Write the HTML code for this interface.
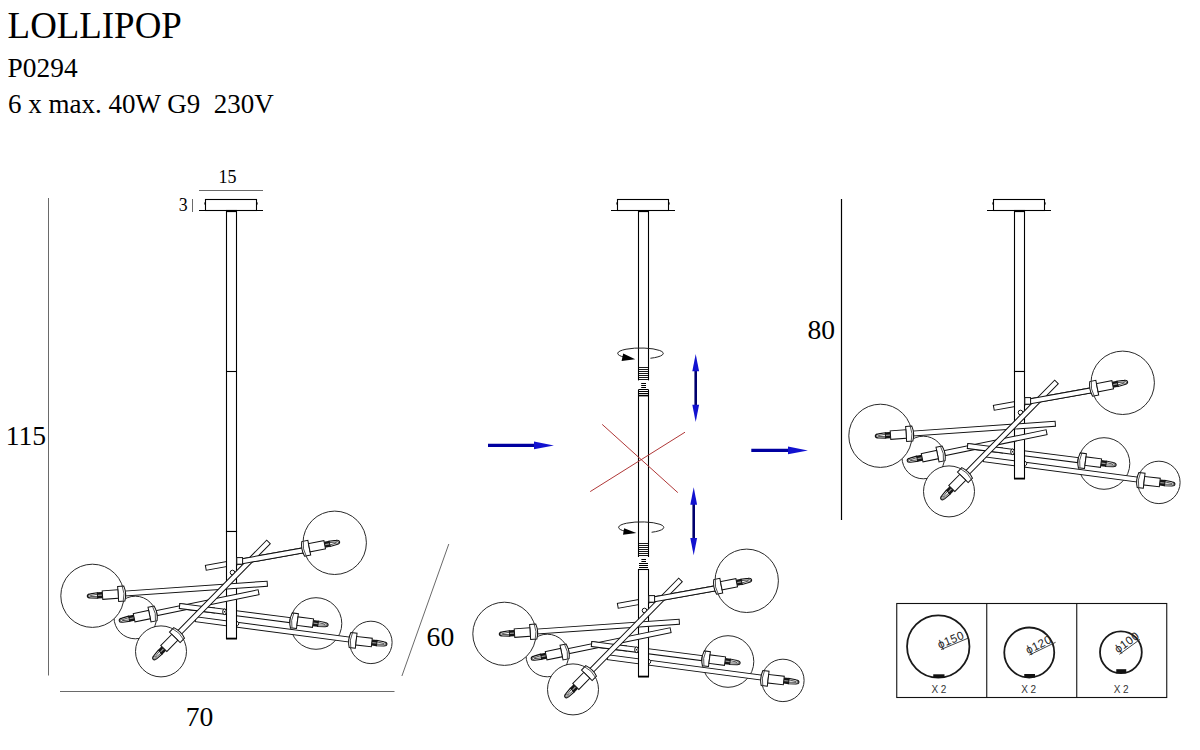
<!DOCTYPE html>
<html><head><meta charset="utf-8">
<style>
html,body{margin:0;padding:0;background:#fff;}
body{width:1200px;height:750px;overflow:hidden;position:relative;}
svg{position:absolute;left:0;top:0;}
.t{font-family:"Liberation Serif",serif;fill:#000;}
.s{font-family:"Liberation Sans",sans-serif;}
.gl{fill:#fff;stroke:#2a2a2a;stroke-width:1;}
.br{fill:#fff;stroke:#111;stroke-width:1;}
.cl{fill:#fff;stroke:#111;stroke-width:1;}
.bd{fill:#fff;stroke:#111;stroke-width:1;}
.tp{fill:#fff;stroke:#111;stroke-width:1;}
.ln{fill:none;stroke:#333;stroke-width:0.8;}
.rod{fill:#fff;stroke:#000;stroke-width:1.1;}
.dim{stroke:#6a6a6a;stroke-width:1;fill:none;}
</style></head>
<body>
<svg width="1200" height="750" viewBox="0 0 1200 750">
<defs>
<clipPath id="clipE" clipPathUnits="userSpaceOnUse"><rect x="170" y="590" width="45" height="30"/></clipPath>
<clipPath id="clipA" clipPathUnits="userSpaceOnUse"><rect x="237" y="500" width="120" height="80"/></clipPath>
<g id="body">
<circle cx="135.3" cy="617.5" r="21.3" class="gl"/>
<circle cx="92.4" cy="595.8" r="31.6" class="gl"/>
<circle cx="161.0" cy="651.4" r="25.5" class="gl"/>
<circle cx="316.0" cy="623.5" r="25.8" class="gl"/>
<circle cx="370.9" cy="642.4" r="21.2" class="gl"/>
<circle cx="334.7" cy="542.8" r="31.7" class="gl"/>
<g transform="translate(205.8 567.8) rotate(-10.18)"><rect x="0" y="-2.5" width="98.84" height="5.0" class="br"/></g>
<g transform="translate(179.6 606.0) rotate(7.31)"><rect x="0" y="-2.5" width="111.22" height="5.0" class="br"/></g>
<g transform="translate(195.5 619.2) rotate(7.53)"><rect x="0" y="-2.5" width="155.23" height="5.0" class="br"/></g>
<rect x="226.5" y="531.5" width="10" height="107" class="rod"/>
<line x1="226" y1="638.6" x2="237" y2="638.6" stroke="#000" stroke-width="1.8"/>
<circle cx="232.5" cy="572.5" r="2.3" class="br"/>
<ellipse cx="224.5" cy="611.8" rx="1.8" ry="2.8" class="br"/><circle cx="224.6" cy="611.8" r="0.7" fill="#000"/>
<path d="M237 621.2 Q240.5 623.7 237 626.3" class="br"/>
<g transform="translate(267.3 583.7) rotate(176.04)"><rect x="0" y="-2.5" width="143.22" height="5.0" class="br"/></g>
<g transform="translate(258.6 592.2) rotate(168.40)"><rect x="0" y="-2.5" width="104.07" height="5.0" class="br"/></g>
<g clip-path="url(#clipE)"><g transform="translate(179.6 606.0) rotate(7.31)"><rect x="0" y="-2.5" width="111.22" height="5.0" class="br"/></g></g>
<g transform="translate(268.5 541.9) rotate(134.47)"><rect x="0" y="-2.5" width="127.45" height="5.0" class="br"/></g>
<g clip-path="url(#clipA)"><g transform="translate(205.8 567.8) rotate(-10.18)"><rect x="0" y="-2.5" width="98.84" height="5.0" class="br"/></g></g>
<rect x="236.8" y="557.6" width="5.8" height="6.6" class="br"/>
<g transform="translate(135.3 617.5) rotate(-11.60)"><path d="M14.50 -7.5 L20.70 -7.5 Q23.30 0 20.70 7.5 L14.50 7.5 Z" class="cl"/><path d="M19.10 -7.3 Q21.60 0 19.10 7.3" class="ln"/><rect x="-1.20" y="-4.25" width="15.70" height="8.5" class="bd"/><path d="M-6.20 -2.7 L-13.20 -2.1 Q-16.40 -1.9 -16.40 0 Q-16.40 1.9 -13.20 2.1 L-6.20 2.7Z" fill="#fff" stroke="#111" stroke-width="1.1"/><path d="M-6.20 -1.2 L-12.90 -0.5 M-6.20 1.2 L-12.90 0.5" stroke="#333" stroke-width="0.8" fill="none"/><ellipse cx="-14.10" cy="0" rx="1.3" ry="1.0" fill="#fff" stroke="#222" stroke-width="0.7"/><rect x="-6.40" y="-3.1" width="5.2" height="6.2" fill="#151515"/><rect x="-5.80" y="-0.6" width="4.0" height="1.2" fill="#9a9a9a"/></g>
<g transform="translate(92.4 595.8) rotate(-3.96)"><path d="M25.80 -7.5 L32.00 -7.5 Q34.60 0 32.00 7.5 L25.80 7.5 Z" class="cl"/><path d="M30.40 -7.3 Q32.90 0 30.40 7.3" class="ln"/><rect x="10.10" y="-4.25" width="15.70" height="8.5" class="bd"/><path d="M5.10 -2.7 L-1.90 -2.1 Q-5.10 -1.9 -5.10 0 Q-5.10 1.9 -1.90 2.1 L5.10 2.7Z" fill="#fff" stroke="#111" stroke-width="1.1"/><path d="M5.10 -1.2 L-1.60 -0.5 M5.10 1.2 L-1.60 0.5" stroke="#333" stroke-width="0.8" fill="none"/><ellipse cx="-2.80" cy="0" rx="1.3" ry="1.0" fill="#fff" stroke="#222" stroke-width="0.7"/><rect x="4.90" y="-3.1" width="5.2" height="6.2" fill="#151515"/><rect x="5.50" y="-0.6" width="4.0" height="1.2" fill="#9a9a9a"/></g>
<g transform="translate(161.0 651.4) rotate(-45.53)"><path d="M19.70 -7.5 L25.90 -7.5 Q28.50 0 25.90 7.5 L19.70 7.5 Z" class="cl"/><path d="M24.30 -7.3 Q26.80 0 24.30 7.3" class="ln"/><rect x="4.00" y="-4.25" width="15.70" height="8.5" class="bd"/><path d="M-1.00 -2.7 L-8.00 -2.1 Q-11.20 -1.9 -11.20 0 Q-11.20 1.9 -8.00 2.1 L-1.00 2.7Z" fill="#fff" stroke="#111" stroke-width="1.1"/><path d="M-1.00 -1.2 L-7.70 -0.5 M-1.00 1.2 L-7.70 0.5" stroke="#333" stroke-width="0.8" fill="none"/><ellipse cx="-8.90" cy="0" rx="1.3" ry="1.0" fill="#fff" stroke="#222" stroke-width="0.7"/><rect x="-1.20" y="-3.1" width="5.2" height="6.2" fill="#151515"/><rect x="-0.60" y="-0.6" width="4.0" height="1.2" fill="#9a9a9a"/></g>
<g transform="translate(316.0 623.5) rotate(-172.69)"><path d="M18.70 -7.5 L24.90 -7.5 Q27.50 0 24.90 7.5 L18.70 7.5 Z" class="cl"/><path d="M23.30 -7.3 Q25.80 0 23.30 7.3" class="ln"/><rect x="3.00" y="-4.25" width="15.70" height="8.5" class="bd"/><path d="M-2.00 -2.7 L-9.00 -2.1 Q-12.20 -1.9 -12.20 0 Q-12.20 1.9 -9.00 2.1 L-2.00 2.7Z" fill="#fff" stroke="#111" stroke-width="1.1"/><path d="M-2.00 -1.2 L-8.70 -0.5 M-2.00 1.2 L-8.70 0.5" stroke="#333" stroke-width="0.8" fill="none"/><ellipse cx="-9.90" cy="0" rx="1.3" ry="1.0" fill="#fff" stroke="#222" stroke-width="0.7"/><rect x="-2.20" y="-3.1" width="5.2" height="6.2" fill="#151515"/><rect x="-1.60" y="-0.6" width="4.0" height="1.2" fill="#9a9a9a"/></g>
<g transform="translate(370.9 642.4) rotate(-173.47)"><path d="M14.80 -7.5 L21.00 -7.5 Q23.60 0 21.00 7.5 L14.80 7.5 Z" class="cl"/><path d="M19.40 -7.3 Q21.90 0 19.40 7.3" class="ln"/><rect x="-0.90" y="-4.25" width="15.70" height="8.5" class="bd"/><path d="M-5.90 -2.7 L-12.90 -2.1 Q-16.10 -1.9 -16.10 0 Q-16.10 1.9 -12.90 2.1 L-5.90 2.7Z" fill="#fff" stroke="#111" stroke-width="1.1"/><path d="M-5.90 -1.2 L-12.60 -0.5 M-5.90 1.2 L-12.60 0.5" stroke="#333" stroke-width="0.8" fill="none"/><ellipse cx="-13.80" cy="0" rx="1.3" ry="1.0" fill="#fff" stroke="#222" stroke-width="0.7"/><rect x="-6.10" y="-3.1" width="5.2" height="6.2" fill="#151515"/><rect x="-5.50" y="-0.6" width="4.0" height="1.2" fill="#9a9a9a"/></g>
<g transform="translate(334.7 542.8) rotate(169.02)"><path d="M25.90 -7.5 L32.10 -7.5 Q34.70 0 32.10 7.5 L25.90 7.5 Z" class="cl"/><path d="M30.50 -7.3 Q33.00 0 30.50 7.3" class="ln"/><rect x="10.20" y="-4.25" width="15.70" height="8.5" class="bd"/><path d="M5.20 -2.7 L-1.80 -2.1 Q-5.00 -1.9 -5.00 0 Q-5.00 1.9 -1.80 2.1 L5.20 2.7Z" fill="#fff" stroke="#111" stroke-width="1.1"/><path d="M5.20 -1.2 L-1.50 -0.5 M5.20 1.2 L-1.50 0.5" stroke="#333" stroke-width="0.8" fill="none"/><ellipse cx="-2.70" cy="0" rx="1.3" ry="1.0" fill="#fff" stroke="#222" stroke-width="0.7"/><rect x="5.00" y="-3.1" width="5.2" height="6.2" fill="#151515"/><rect x="5.60" y="-0.6" width="4.0" height="1.2" fill="#9a9a9a"/></g>
</g>
</defs>
<!-- header text -->
<text class="t" x="7.6" y="37.5" font-size="36.9">LOLLIPOP</text>
<text class="t" x="7.6" y="76.8" font-size="27.4">P0294</text>
<text class="t" x="8" y="112.5" font-size="27" xml:space="preserve">6 x max. 40W G9  230V</text>

<!-- LEFT FIGURE -->
<line x1="48.5" y1="198" x2="48.5" y2="675.5" class="dim"/>
<text class="t" x="5.8" y="445.2" font-size="27.6">115</text>
<line x1="60" y1="691.5" x2="394.5" y2="691.5" class="dim"/>
<text class="t" x="185.8" y="726.3" font-size="27.6">70</text>
<line x1="448.8" y1="544" x2="401.9" y2="676" class="dim" stroke="#444"/>
<text class="t" x="426.6" y="646.3" font-size="27.6">60</text>
<line x1="199" y1="190.5" x2="263" y2="190.5" class="dim"/>
<text class="t" x="218.5" y="182.6" font-size="18">15</text>
<text class="t" x="178.8" y="210.6" font-size="17.8">3</text>
<line x1="192.5" y1="199" x2="192.5" y2="212" class="dim"/>

<g id="canopy">
<rect x="205.5" y="199.5" width="51" height="11" fill="#fff" stroke="#000" stroke-width="1.1"/>
<line x1="199" y1="210.5" x2="263" y2="210.5" stroke="#000" stroke-width="1.2"/>
<path d="M205.5 201.5 Q204 203.3 205.5 205.5 M256.5 201.5 Q258 203.3 256.5 205.5" stroke="#000" stroke-width="1" fill="none"/>
</g>
<rect x="226.5" y="210.5" width="10" height="321" class="rod"/>
<line x1="226.5" y1="371.5" x2="236.5" y2="371.5" stroke="#000" stroke-width="1.1"/>
<line x1="227" y1="211.3" x2="236" y2="211.3" stroke="#000" stroke-width="1.6"/>
<use href="#body"/>

<!-- MIDDLE FIGURE -->
<use href="#canopy" transform="translate(412 0)"/>
<line x1="639" y1="211.3" x2="648" y2="211.3" stroke="#000" stroke-width="1.6"/>
<line x1="638.5" y1="210.5" x2="638.5" y2="380.4" stroke="#000" stroke-width="1.1"/>
<line x1="648.5" y1="210.5" x2="648.5" y2="380.4" stroke="#000" stroke-width="1.1"/>
<line x1="638.5" y1="367.50" x2="648.5" y2="367.50" stroke="#000" stroke-width="0.9"/><line x1="638.5" y1="369.50" x2="648.5" y2="369.50" stroke="#000" stroke-width="0.9"/><line x1="638.5" y1="371.50" x2="648.5" y2="371.50" stroke="#000" stroke-width="0.9"/><line x1="638.5" y1="373.50" x2="648.5" y2="373.50" stroke="#000" stroke-width="0.9"/><line x1="638.5" y1="375.50" x2="648.5" y2="375.50" stroke="#000" stroke-width="0.9"/><line x1="638.5" y1="377.50" x2="648.5" y2="377.50" stroke="#000" stroke-width="0.9"/><line x1="638.5" y1="379.50" x2="648.5" y2="379.50" stroke="#000" stroke-width="0.9"/>
<line x1="641.2" y1="383.5" x2="646" y2="383.5" stroke="#000" stroke-width="1.0"/>
<line x1="641.2" y1="385.5" x2="646" y2="385.5" stroke="#000" stroke-width="1.0"/>
<line x1="641.2" y1="387.5" x2="646" y2="387.5" stroke="#000" stroke-width="1.0"/>
<line x1="638.5" y1="389.5" x2="648.5" y2="389.5" stroke="#000" stroke-width="1.0"/>
<line x1="638.5" y1="391.5" x2="648.5" y2="391.5" stroke="#000" stroke-width="1.0"/>
<line x1="638.5" y1="393.5" x2="648.5" y2="393.5" stroke="#000" stroke-width="1.0"/>
<line x1="638.5" y1="395.6" x2="648.5" y2="395.6" stroke="#000" stroke-width="1.6"/>
<line x1="638.5" y1="389.6" x2="638.5" y2="557" stroke="#000" stroke-width="1.1"/>
<line x1="648.5" y1="389.6" x2="648.5" y2="557" stroke="#000" stroke-width="1.1"/>
<line x1="638.5" y1="543.50" x2="648.5" y2="543.50" stroke="#000" stroke-width="0.9"/><line x1="638.5" y1="545.50" x2="648.5" y2="545.50" stroke="#000" stroke-width="0.9"/><line x1="638.5" y1="547.50" x2="648.5" y2="547.50" stroke="#000" stroke-width="0.9"/><line x1="638.5" y1="549.50" x2="648.5" y2="549.50" stroke="#000" stroke-width="0.9"/><line x1="638.5" y1="551.50" x2="648.5" y2="551.50" stroke="#000" stroke-width="0.9"/><line x1="638.5" y1="553.50" x2="648.5" y2="553.50" stroke="#000" stroke-width="0.9"/><line x1="638.5" y1="555.50" x2="648.5" y2="555.50" stroke="#000" stroke-width="0.9"/>
<line x1="641.4" y1="559.5" x2="646" y2="559.5" stroke="#000" stroke-width="1.0"/>
<line x1="641.4" y1="561.5" x2="646" y2="561.5" stroke="#000" stroke-width="1.0"/>
<line x1="639" y1="563.5" x2="648" y2="563.5" stroke="#000" stroke-width="1.0"/>
<line x1="639" y1="565.5" x2="648" y2="565.5" stroke="#000" stroke-width="1.0"/>
<line x1="639" y1="567.5" x2="648" y2="567.5" stroke="#000" stroke-width="1.0"/>
<use href="#body" transform="translate(412 38)"/>
<path d="M650.40 358.26 A22.8 5.4 0 1 0 624.70 357.29" fill="none" stroke="#222" stroke-width="1"/><polygon points="623.2,353.6 621.6,361 635.2,359.2" fill="#000"/>
<path d="M651.60 532.28 A22.6 5.5 0 1 0 625.60 531.38" fill="none" stroke="#222" stroke-width="1"/><polygon points="624.1,528.2 623,534.7 636.4,532.9" fill="#000"/>
<line x1="602.2" y1="424.4" x2="677.8" y2="492.6" stroke="#b03838" stroke-width="1"/>
<line x1="590.2" y1="491.6" x2="685" y2="432.2" stroke="#b03838" stroke-width="1"/>
<line x1="488" y1="445.4" x2="535" y2="445.4" stroke="#0000a0" stroke-width="3.2"/><polygon points="534,441.5 553.9,445.4 534,449.29999999999995" fill="#1212d0"/>
<line x1="751.3" y1="450.4" x2="789" y2="450.4" stroke="#0000a0" stroke-width="3.2"/><polygon points="788,446.5 807.9,450.4 788,454.29999999999995" fill="#1212d0"/>
<line x1="695.7" y1="370.3" x2="695.7" y2="405.7" stroke="#00006e" stroke-width="2.6"/><polygon points="695.7,354 699.1,371.3 692.3000000000001,371.3" fill="#1212d0"/><polygon points="695.7,422 699.1,404.7 692.3000000000001,404.7" fill="#1212d0"/>
<line x1="693.7" y1="503.7" x2="693.7" y2="539" stroke="#00006e" stroke-width="2.6"/><polygon points="693.7,487.3 697.1,504.7 690.3000000000001,504.7" fill="#1212d0"/><polygon points="693.7,555.3 697.1,538 690.3000000000001,538" fill="#1212d0"/>

<!-- RIGHT FIGURE -->
<line x1="841.5" y1="199" x2="841.5" y2="520" stroke="#000" stroke-width="1.2"/>
<text class="t" x="807.5" y="339.3" font-size="27.6">80</text>
<use href="#canopy" transform="translate(788 0)"/>
<rect x="1014.5" y="210.5" width="10" height="161" class="rod"/>
<line x1="1015" y1="211.3" x2="1024" y2="211.3" stroke="#000" stroke-width="1.6"/>
<use href="#body" transform="translate(788 -160)"/>

<!-- GLOBES TABLE -->
<rect x="896.75" y="603.5" width="270" height="94" fill="none" stroke="#111" stroke-width="1.1"/>
<line x1="986.75" y1="603.5" x2="986.75" y2="697.5" stroke="#111" stroke-width="1.1"/>
<line x1="1076.75" y1="603.5" x2="1076.75" y2="697.5" stroke="#111" stroke-width="1.1"/>
<circle cx="938.25" cy="646.5" r="31.2" fill="none" stroke="#1a1a1a" stroke-width="1.8"/>
<rect x="933.25" y="674.3" width="11.25" height="3.7" fill="#111"/>
<line x1="941" y1="649.5" x2="968.5" y2="638" stroke="#333" stroke-width="0.9"/>
<text class="s" font-size="11.5" fill="#222" letter-spacing="0.5" transform="translate(939.5 648.7) rotate(-22.5)">ϕ150</text>
<text class="s" font-size="10" fill="#333" x="931.4" y="692.5" xml:space="preserve">X 2</text>
<circle cx="1029.25" cy="652.5" r="25.0" fill="none" stroke="#1a1a1a" stroke-width="1.8"/>
<rect x="1024.25" y="674.0" width="10.75" height="3.5" fill="#111"/>
<line x1="1029.4" y1="655" x2="1055.6" y2="642.3" stroke="#333" stroke-width="0.9"/>
<text class="s" font-size="11.5" fill="#222" letter-spacing="0.5" transform="translate(1027.9 654.2) rotate(-26)">ϕ120</text>
<text class="s" font-size="10" fill="#333" x="1021.15" y="692.5" xml:space="preserve">X 2</text>
<circle cx="1120.9" cy="652.25" r="20.9" fill="none" stroke="#1a1a1a" stroke-width="1.8"/>
<rect x="1116.25" y="669.2" width="10" height="4" fill="#111"/>
<line x1="1119.4" y1="654.4" x2="1140" y2="639.4" stroke="#333" stroke-width="0.9"/>
<text class="s" font-size="11.5" fill="#222" letter-spacing="0.5" transform="translate(1117.9 653.6) rotate(-36)">ϕ100</text>
<text class="s" font-size="10" fill="#333" x="1113.65" y="692.5" xml:space="preserve">X 2</text>
</svg>
</body></html>
